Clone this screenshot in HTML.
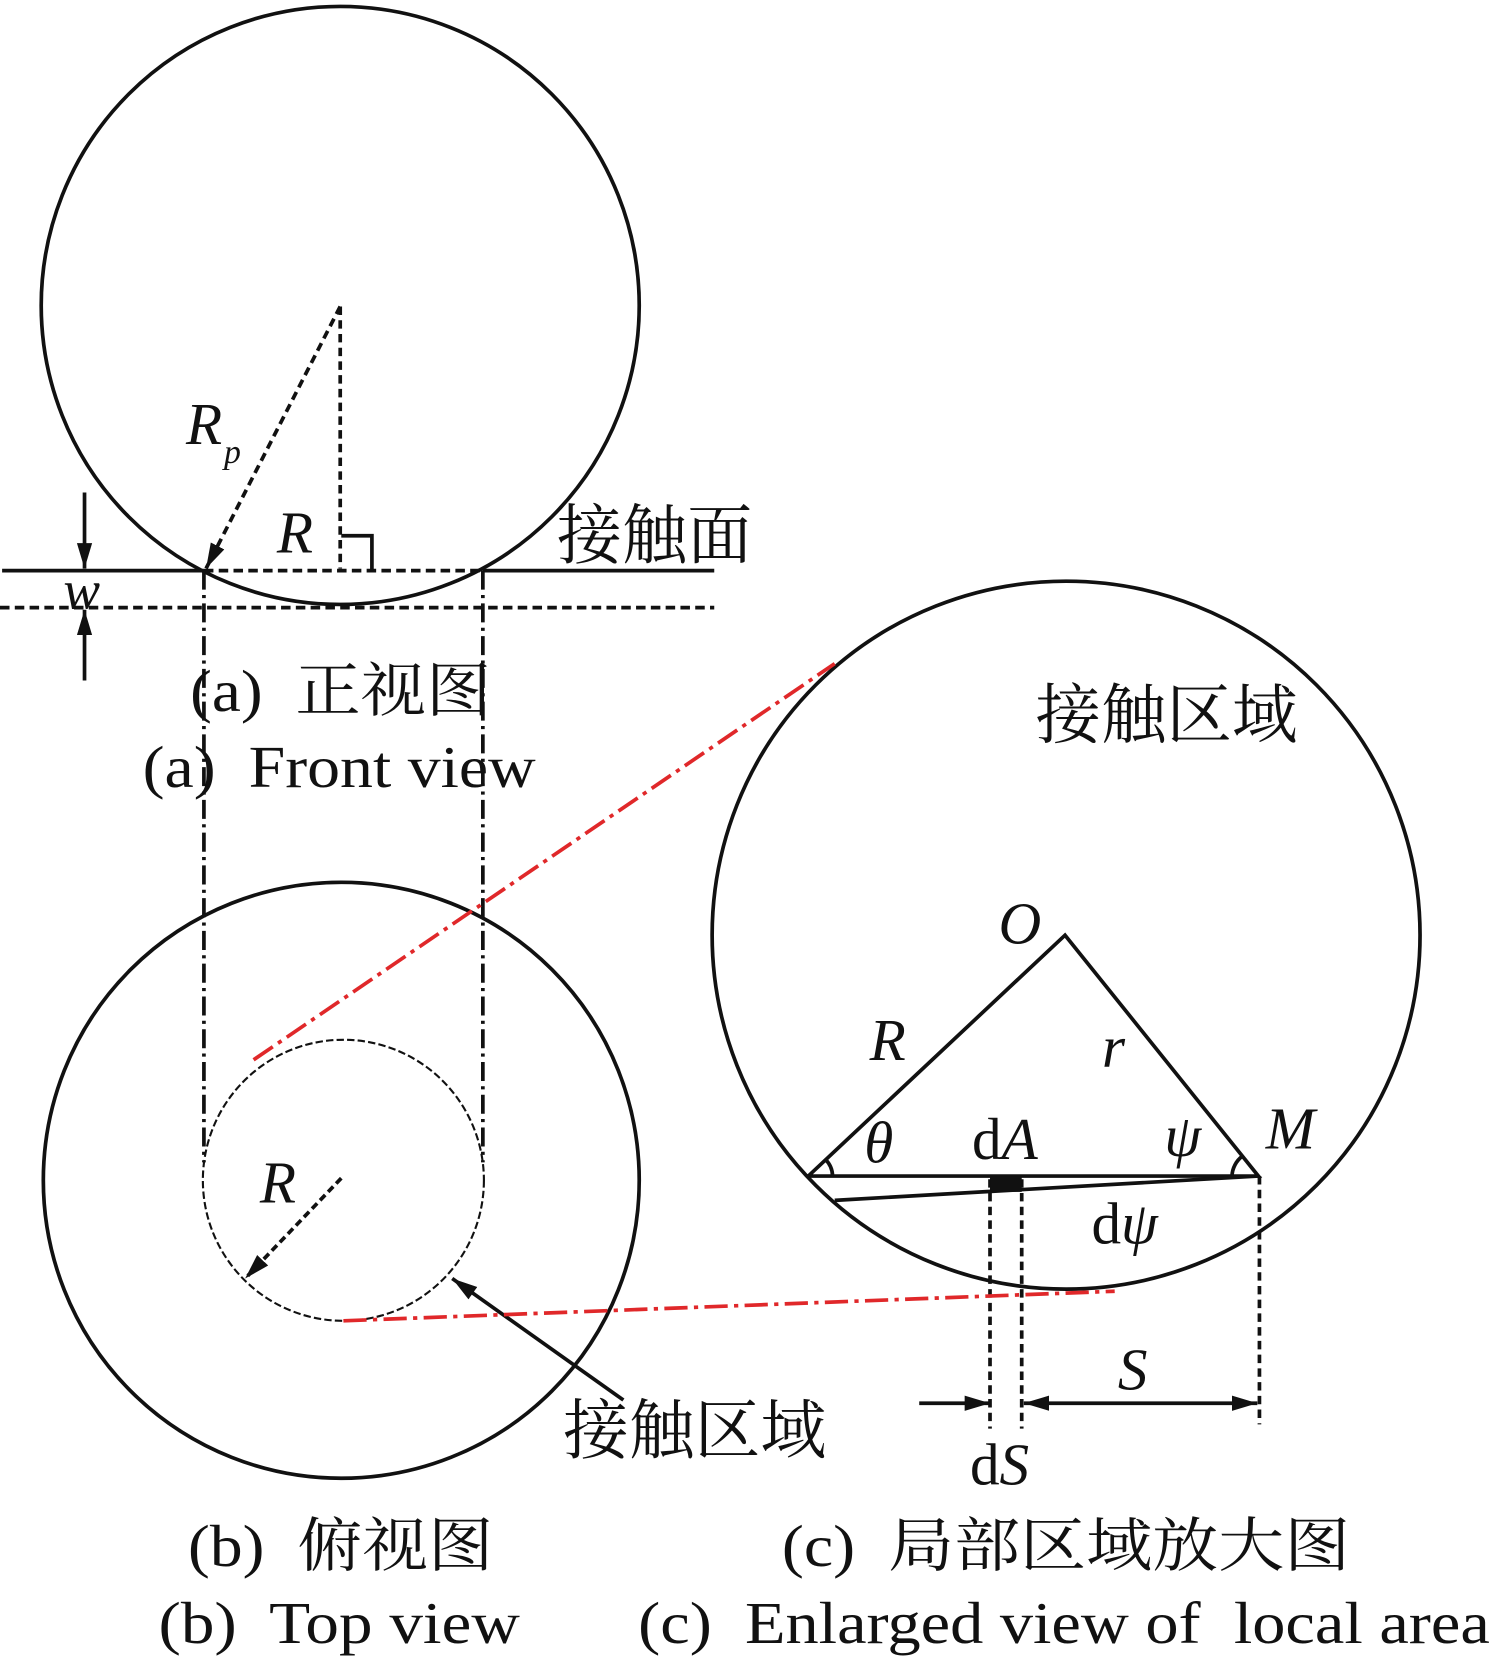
<!DOCTYPE html>
<html><head><meta charset="utf-8"><style>
html,body{margin:0;padding:0;background:#fff;}
svg{display:block;}
text{font-family:"Liberation Serif","Noto Serif CJK SC",serif;fill:#111;white-space:pre;}
.i{font-style:italic;}
</style></head><body>
<svg width="1494" height="1659" viewBox="0 0 1414 1570" xmlns="http://www.w3.org/2000/svg">
<defs>
<marker id="ab" viewBox="0 0 10 10" refX="10" refY="5" markerWidth="24" markerHeight="24" markerUnits="userSpaceOnUse" orient="auto-start-reverse">
<path d="M0,2 L10,5 L0,8 z" fill="#111"/></marker>
</defs>
<g fill="none" stroke="#111" stroke-width="3.5">
<circle cx="322" cy="289" r="283"/>
<line x1="2" y1="540" x2="193" y2="540"/>
<line x1="457" y1="540" x2="676" y2="540"/>
<line x1="193" y1="540" x2="457" y2="540" stroke-dasharray="9,5"/>
<line x1="0" y1="575" x2="676" y2="575" stroke-dasharray="9,5"/>
<line x1="322" y1="290" x2="322" y2="538" stroke-dasharray="8,5"/>
<polyline points="323,507 352,507 352,540"/>
<line x1="322" y1="290" x2="195" y2="538" stroke-dasharray="8,5" marker-end="url(#ab)"/>
<line x1="80" y1="466" x2="80" y2="538" marker-end="url(#ab)"/>
<line x1="80" y1="644" x2="80" y2="577" marker-end="url(#ab)"/>
<line x1="193" y1="540" x2="193" y2="1100" stroke-dasharray="18,5,3,5"/>
<line x1="457" y1="540" x2="457" y2="1100" stroke-dasharray="18,5,3,5"/>
<circle cx="323" cy="1117" r="282"/>
<circle cx="325" cy="1117" r="133" stroke-width="2" stroke-dasharray="7,3"/>
<line x1="323" y1="1115" x2="232" y2="1210" stroke-dasharray="7,4" marker-end="url(#ab)"/>
<line x1="590" y1="1325" x2="428" y2="1210" marker-end="url(#ab)"/>
<circle cx="1009" cy="885" r="335"/>
<polyline points="765,1113 1008,885 1191,1113 765,1113"/>
<line x1="790" y1="1136" x2="1191" y2="1113"/>
<path d="M788,1113 A23,23 0 0 0 781,1097"/>
<path d="M1166,1113 A25,25 0 0 1 1176,1094"/>
<line x1="937" y1="1116" x2="937" y2="1352" stroke-dasharray="8,5"/>
<line x1="967" y1="1116" x2="967" y2="1352" stroke-dasharray="8,5"/>
<line x1="1192" y1="1113" x2="1192" y2="1348" stroke-dasharray="8,5"/>
<line x1="870" y1="1328" x2="937" y2="1328" marker-end="url(#ab)"/>
<line x1="969" y1="1328" x2="1190" y2="1328" marker-start="url(#ab)" marker-end="url(#ab)"/>
</g>
<rect x="937" y="1113" width="30" height="15" fill="#111"/>
<g fill="none" stroke="#e0282a" stroke-width="3.5" stroke-dasharray="22,6,4,6">
<line x1="240" y1="1003" x2="790" y2="628"/>
<line x1="325" y1="1250" x2="1055" y2="1222"/>
</g>
<text x="176" y="420" font-size="56" class="i">R</text><text x="212" y="438" font-size="32" class="i">p</text>
<text x="262" y="523" font-size="56" class="i">R</text>
<text x="527" y="528" font-size="62" textLength="185" lengthAdjust="spacingAndGlyphs">接触面</text>
<text x="60" y="576" font-size="52" class="i">w</text>
<text x="180" y="673" font-size="56" textLength="285" lengthAdjust="spacingAndGlyphs">(a)  正视图</text>
<text x="135" y="745" font-size="56" textLength="372" lengthAdjust="spacingAndGlyphs">(a)  Front view</text>
<text x="246" y="1138" font-size="56" class="i">R</text>
<text x="533" y="1375" font-size="62" textLength="249" lengthAdjust="spacingAndGlyphs">接触区域</text>
<text x="980" y="698" font-size="62" textLength="248" lengthAdjust="spacingAndGlyphs">接触区域</text>
<text x="945" y="893" font-size="56" class="i">O</text>
<text x="823" y="1003" font-size="56" class="i">R</text>
<text x="1043" y="1010" font-size="56" class="i">r</text>
<text x="818" y="1100" font-size="56" class="i">θ</text>
<text x="920" y="1097" font-size="56">d<tspan class="i">A</tspan></text>
<text x="1102" y="1094" font-size="56" class="i">ψ</text>
<text x="1198" y="1087" font-size="56" class="i">M</text>
<text x="1033" y="1177" font-size="56">d<tspan class="i">ψ</tspan></text>
<text x="1058" y="1315" font-size="56" class="i">S</text>
<text x="918" y="1405" font-size="56">d<tspan class="i">S</tspan></text>
<text x="178" y="1482" font-size="56" textLength="289" lengthAdjust="spacingAndGlyphs">(b)  俯视图</text>
<text x="740" y="1482" font-size="56" textLength="538" lengthAdjust="spacingAndGlyphs">(c)  局部区域放大图</text>
<text x="150" y="1555" font-size="56" textLength="342" lengthAdjust="spacingAndGlyphs">(b)  Top view</text>
<text x="604" y="1555" font-size="56" textLength="806" lengthAdjust="spacingAndGlyphs">(c)  Enlarged view of  local area</text>
</svg>
</body></html>
